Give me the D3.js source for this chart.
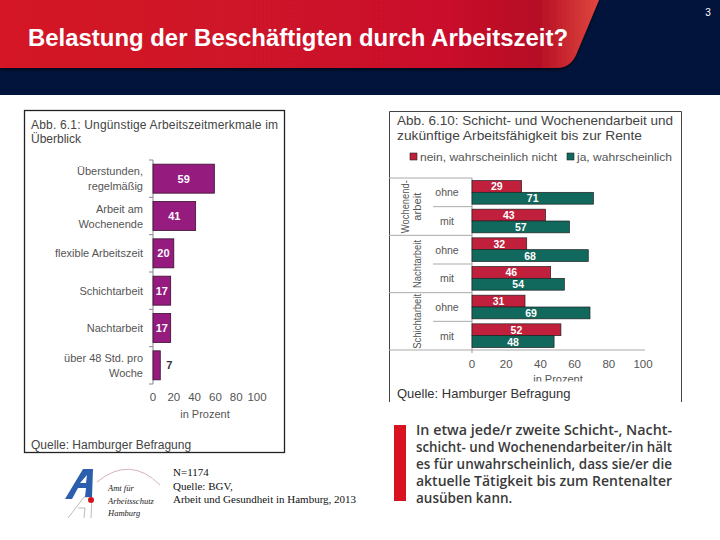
<!DOCTYPE html>
<html><head><meta charset="utf-8">
<script src="https://cdn.jsdelivr.net/npm/d3@7"></script>
<style>
html,body{margin:0;padding:0;background:#fff;}
svg{display:block;font-family:"Liberation Sans",Arial,sans-serif;}
</style></head>
<body>
<svg id="c" width="720" height="540"></svg>
<script>
// ---------- data ----------
const leftCategories = [["Überstunden,","regelmäßig"],["Arbeit am","Wochenende"],["flexible Arbeitszeit"],["Schichtarbeit"],["Nachtarbeit"],["über 48 Std. pro","Woche"]];
const leftValues = [59, 41, 20, 17, 17, 7];
const leftTicks = [0, 20, 40, 60, 80, 100];

const rightGroups = [["Wochenend-","arbeit"],["Nachtarbeit"],["Schichtarbeit"]];
const rightSub = ["ohne","mit","ohne","mit","ohne","mit"];
const neinValues = [29, 43, 32, 46, 31, 52];
const jaValues = [71, 57, 68, 54, 69, 48];
const rightSeries = ["nein, wahrscheinlich nicht","ja, wahrscheinlich"];
const rightTicks = [0, 20, 40, 60, 80, 100];

const bodyLines = ["In etwa jede/r zweite Schicht-, Nacht-","schicht- und Wochenendarbeiter/in hält","es für unwahrscheinlich, dass sie/er die","aktuelle Tätigkeit bis zum Rentenalter","ausüben kann."];
const noteLines = ["N=1174","Quelle: BGV,","Arbeit und Gesundheit in Hamburg, 2013"];

const svg = d3.select("#c");
const defs = svg.append("defs");

// ---------- header ----------
svg.append("rect").attr("x",0).attr("y",0).attr("width",720).attr("height",95).attr("fill","#02143b");
const g1 = defs.append("linearGradient").attr("id","red").attr("x1","0").attr("x2","1");
g1.append("stop").attr("offset","0").attr("stop-color","#d41327");
g1.append("stop").attr("offset","0.75").attr("stop-color","#c9112a");
g1.append("stop").attr("offset","0.9").attr("stop-color","#b60f25");
g1.append("stop").attr("offset","1").attr("stop-color","#e0473e");
const sh = defs.append("filter").attr("id","sh").attr("x","-0.05").attr("y","-0.2").attr("width","1.1").attr("height","1.5");
sh.append("feDropShadow").attr("dx",0).attr("dy",2).attr("stdDeviation",1.5).attr("flood-color","#000").attr("flood-opacity",0.6);
svg.append("path").attr("d","M0,0 L599,0 L576,55 Q570,68 556,68 L0,68 Z").attr("fill","url(#red)").attr("filter","url(#sh)");
svg.append("text").attr("x",28).attr("y",46).attr("fill","#fff").attr("font-size",23).attr("font-weight","bold")
  .attr("textLength",540).attr("lengthAdjust","spacingAndGlyphs").text("Belastung der Beschäftigten durch Arbeitszeit?");
svg.append("text").attr("x",708).attr("y",16).attr("fill","#fff").attr("font-size",10).attr("text-anchor","middle").text("3");

// ---------- left chart ----------
const L = svg.append("g");
L.append("rect").attr("x",24.5).attr("y",110.5).attr("width",260).attr("height",342).attr("fill","#fff").attr("stroke","#222").attr("stroke-width",1.3);
L.append("text").attr("x",31).attr("y",129).attr("font-size",12).attr("fill","#444").attr("textLength",247).attr("lengthAdjust","spacing").text("Abb. 6.1: Ungünstige Arbeitszeitmerkmale im");
L.append("text").attr("x",31).attr("y",143).attr("font-size",12).attr("fill","#444").text("Überblick");

const lx = d3.scaleLinear().domain([0,100]).range([153,257]);
const ly = d3.scaleBand().domain(d3.range(leftValues.length)).range([160,384]).paddingInner(0.223).paddingOuter(0.1115);
L.append("line").attr("x1",153).attr("x2",153).attr("y1",160).attr("y2",384).attr("stroke","#888").attr("stroke-width",1);
d3.range(leftValues.length+1).forEach(k=>{
  const y = 160 + k*ly.step();
  L.append("line").attr("x1",149).attr("x2",153).attr("y1",y).attr("y2",y).attr("stroke","#888");
});
L.selectAll("rect.bar").data(leftValues).join("rect").attr("class","bar")
  .attr("x",lx(0)).attr("y",(d,i)=>ly(i)).attr("width",d=>lx(d)-lx(0)).attr("height",ly.bandwidth())
  .attr("fill","#951b7f").attr("stroke","#3a1030").attr("stroke-width",0.8);
L.selectAll("text.val").data(leftValues).join("text").attr("class","val")
  .attr("x",(d)=> d<10 ? lx(d)+9 : (lx(0)+lx(d))/2)
  .attr("y",(d,i)=>ly(i)+ly.bandwidth()/2+4).attr("text-anchor","middle")
  .attr("font-size",11).attr("font-weight","bold").attr("fill",d=> d<10 ? "#333" : "#fff").text(d=>d);
leftCategories.forEach((lines,i)=>{
  const cy = ly(i)+ly.bandwidth()/2;
  lines.forEach((t,j)=>{
    L.append("text").attr("x",143).attr("y",cy + 4 + (j-(lines.length-1)/2)*15)
      .attr("text-anchor","end").attr("font-size",11).attr("fill","#555").text(t);
  });
});
L.selectAll("text.tick").data(leftTicks).join("text").attr("class","tick")
  .attr("x",d=>lx(d)).attr("y",401).attr("text-anchor","middle").attr("font-size",11.5).attr("fill","#555").text(d=>d);
L.append("text").attr("x",205).attr("y",418).attr("text-anchor","middle").attr("font-size",11).attr("fill","#555").text("in Prozent");
L.append("text").attr("x",31).attr("y",449).attr("font-size",12).attr("fill","#444").text("Quelle: Hamburger Befragung");

// ---------- right chart ----------
const R = svg.append("g");
R.append("path").attr("d","M389.5,402 L389.5,111.5 L681.5,111.5 L681.5,402").attr("fill","none").attr("stroke","#444").attr("stroke-width",1);
R.append("text").attr("x",397).attr("y",125).attr("font-size",13).attr("fill","#444").attr("textLength",276).attr("lengthAdjust","spacingAndGlyphs").text("Abb. 6.10: Schicht- und Wochenendarbeit und");
R.append("text").attr("x",397).attr("y",140).attr("font-size",13).attr("fill","#444").attr("textLength",245).attr("lengthAdjust","spacingAndGlyphs").text("zukünftige Arbeitsfähigkeit bis zur Rente");

const colors = ["#c0203c","#11695d"];
const legX = [410, 567];
const legW = [137, 95];
rightSeries.forEach((s,i)=>{
  R.append("rect").attr("x",legX[i]).attr("y",153).attr("width",7).attr("height",7).attr("fill",colors[i]).attr("stroke","#222").attr("stroke-width",0.6);
  R.append("text").attr("x",legX[i]+10).attr("y",161).attr("font-size",11.5).attr("fill","#555")
    .attr("textLength",legW[i]).attr("lengthAdjust","spacingAndGlyphs").text(s);
});

const rx = d3.scaleLinear().domain([0,100]).range([472,643]);
const ry = d3.scaleBand().domain(d3.range(rightSub.length)).range([178,350]);
const rs = d3.scaleBand().domain([0,1]).range([2.5, ry.bandwidth()-2.5]);
R.append("line").attr("x1",389).attr("x2",472).attr("y1",178).attr("y2",178).attr("stroke","#aaa");
rightSub.forEach((s,i)=>{
  const yb = ry(i)+ry.bandwidth();
  const full = (i%2===1);
  R.append("line").attr("x1",full?389:433).attr("x2",full && i===rightSub.length-1 ? 645 : 472).attr("y1",yb).attr("y2",yb).attr("stroke","#aaa");
  R.append("text").attr("x",447).attr("y",ry(i)+ry.bandwidth()/2+4).attr("text-anchor","middle").attr("font-size",10.5).attr("fill","#555").text(s);
});
R.append("line").attr("x1",472).attr("x2",472).attr("y1",178).attr("y2",353).attr("stroke","#999");
const grpW = [[53,28],[48],[55]];
rightGroups.forEach((lines,gi)=>{
  const cy = ry(gi*2) + ry.bandwidth();
  const xs = lines.length===2 ? [409,421] : [421];
  lines.forEach((t,j)=>{
    R.append("text").attr("transform",`translate(${xs[j]},${cy}) rotate(-90)`).attr("text-anchor","middle")
      .attr("font-size",10.5).attr("fill","#555").attr("textLength",grpW[gi][j]).attr("lengthAdjust","spacingAndGlyphs").text(t);
  });
});
[neinValues, jaValues].forEach((vals,si)=>{
  R.selectAll("rect.s"+si).data(vals).join("rect").attr("class","s"+si)
    .attr("x",rx(0)).attr("y",(d,i)=>ry(i)+rs(si)).attr("width",d=>rx(d)-rx(0)).attr("height",rs.bandwidth())
    .attr("fill",colors[si]).attr("stroke","#222").attr("stroke-width",0.7);
  R.selectAll("text.v"+si).data(vals).join("text").attr("class","v"+si)
    .attr("x",d=>(rx(0)+rx(d))/2).attr("y",(d,i)=>ry(i)+rs(si)+rs.bandwidth()/2+4)
    .attr("text-anchor","middle").attr("font-size",10.5).attr("font-weight","bold").attr("fill","#fff").text(d=>d);
});
R.selectAll("text.tick").data(rightTicks).join("text").attr("class","tick")
  .attr("x",d=>rx(d)).attr("y",368).attr("text-anchor","middle").attr("font-size",11.5).attr("fill","#555").text(d=>d);
defs.append("clipPath").attr("id","clipP").append("rect").attr("x",500).attr("y",360).attr("width",120).attr("height",21.5);
R.append("text").attr("x",558).attr("y",382.5).attr("text-anchor","middle").attr("font-size",11).attr("fill","#555").attr("clip-path","url(#clipP)").text("in Prozent");
R.append("text").attr("x",397).attr("y",398).attr("font-size",13).attr("fill","#333").text("Quelle: Hamburger Befragung");

// ---------- bottom right text ----------
svg.append("rect").attr("x",394).attr("y",425).attr("width",12).attr("height",76).attr("fill","#d7141f");
bodyLines.forEach((t,i)=>{
  const tx = svg.append("text").attr("x",416).attr("y",435+i*17).attr("font-size",13.5).attr("font-weight","600")
    .attr("fill","#3a3a3a").attr("font-family","'Open Sans','Liberation Sans',Arial,sans-serif").text(t);
  if (i < bodyLines.length-1) tx.attr("textLength",256).attr("lengthAdjust","spacingAndGlyphs");
});

// ---------- logo & note ----------
const lg = svg.append("g");
lg.append("path").attr("d","M97,482 Q130,455 160,485").attr("fill","none").attr("stroke","#c9a0a8").attr("stroke-width",0.8);
lg.append("path").attr("d","M68,518 L84,497 L92,497 L91,518 M84,518 L85,508 L78,508").attr("fill","none").attr("stroke","#aaa").attr("stroke-width",0.8);
lg.append("path").attr("d","M65,499 L83,469 L93,469 L92,497 L85,497 L86,488 L78,488 L72,499 Z M80,483 L86,483 L87,475 Z").attr("fill","#2b5fae").attr("fill-rule","evenodd");
lg.append("circle").attr("cx",91).attr("cy",500).attr("r",3).attr("fill","#d3141f");
["Amt für","Arbeitsschutz","Hamburg"].forEach((t,i)=>{
  lg.append("text").attr("x",108).attr("y",491+i*12.5).attr("font-size",8.5).attr("font-style","italic").attr("fill","#222")
    .attr("font-family","'Liberation Serif',serif").text(t);
});
noteLines.forEach((t,i)=>{
  svg.append("text").attr("x",173).attr("y",476+i*13.5).attr("font-size",11).attr("fill","#111")
    .attr("font-family","'Liberation Serif','Times New Roman',serif").text(t);
});
</script>
</body></html>
